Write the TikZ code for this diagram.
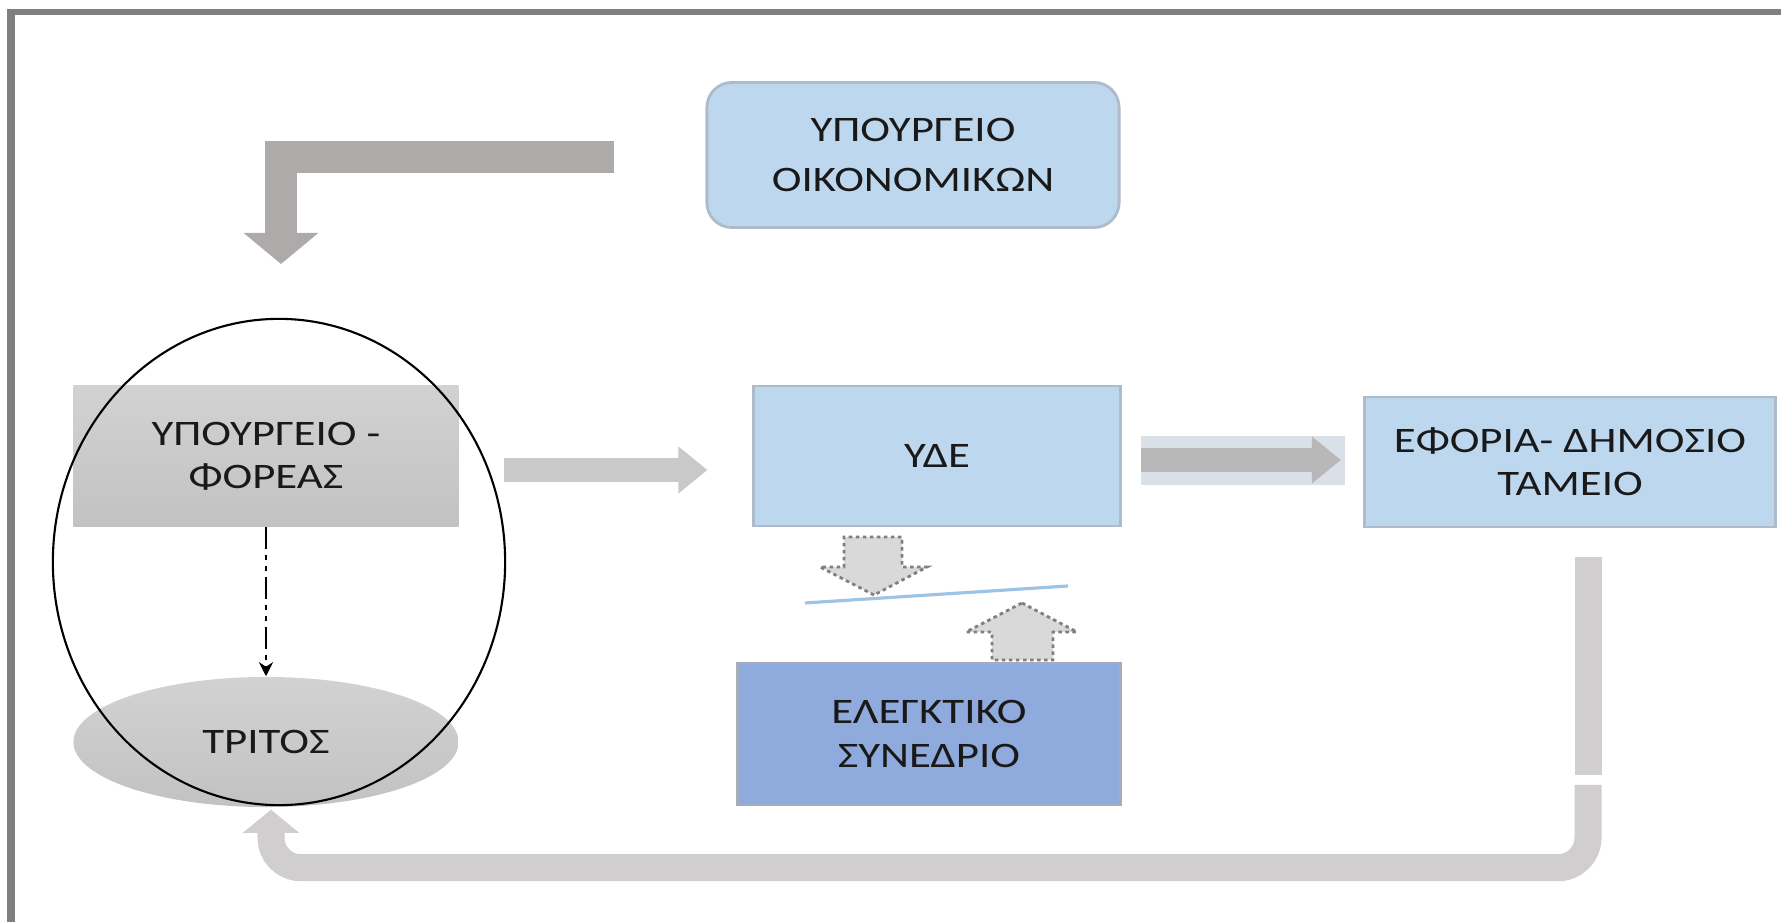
\documentclass[tikz,border=0pt]{standalone}
\usepackage{fontspec}
\setmainfont{Carlito}[FakeStretch=1.25]
\usetikzlibrary{calc,arrows.meta,shapes.geometric}
\tikzset{>=stealth}

\definecolor{boxblue}{HTML}{BDD7EE}
\definecolor{boxedge}{HTML}{AEBBCB}
\definecolor{auditblue}{HTML}{8FAADC}
\definecolor{auditedge}{HTML}{A4ADBC}
\definecolor{framegray}{HTML}{7F7F7F}
\definecolor{bentgray}{HTML}{AEAAAA}
\definecolor{flowgray}{HTML}{C9C9C9}
\definecolor{loopgray}{HTML}{D0CECE}
\definecolor{glowblue}{HTML}{DAE0E8}
\definecolor{dashfill}{HTML}{D9D9D9}
\definecolor{lineblue}{HTML}{9DC3E6}
\definecolor{greytop}{HTML}{D2D2D2}
\definecolor{greybot}{HTML}{C2C2C2}

\tikzset{
  txt/.style={font=\fontsize{10.2}{12.3}\selectfont, text=black!90, align=center},
  bluebox/.style={txt, rectangle, fill=boxblue, draw=boxedge, line width=0.8pt, inner sep=0pt},
  greybox/.style={txt, rectangle, top color=greytop, bottom color=greybot, inner sep=0pt},
  flowarrow/.style={draw=flowgray, line width=0.24cm, -{Triangle[width=0.45cm,length=0.29cm]}},
  bentarrow/.style={draw=bentgray, line width=0.32cm, line join=miter, -{Triangle[width=0.73cm,length=0.31cm]}},
  looparrow/.style={draw=loopgray, line width=0.27cm, rounded corners=0.3cm, -{Triangle[width=0.55cm,length=0.23cm]}},
  dashblock/.style={fill=dashfill, draw=framegray, line width=0.8pt, dash pattern=on 1pt off 1pt},
}

\begin{document}
\begin{tikzpicture}[x=0.01cm, y=-0.01cm]
  \useasboundingbox (0,0) rectangle (1781,922);
  % frame
  \fill[framegray] (7,9) rectangle (15,922);
  \fill[framegray] (7,9) rectangle (1781,15);

  \node[bluebox, rounded corners=0.25cm, minimum width=4.12cm, minimum height=1.45cm] (minfin) at (913,155) {ΥΠΟΥΡΓΕΙΟ\\[2pt]ΟΙΚΟΝΟΜΙΚΩΝ};
  \node[greybox, minimum width=3.85cm, minimum height=1.41cm] (foreas) at (266,456) {ΥΠΟΥΡΓΕΙΟ -\\ΦΟΡΕΑΣ};
  \node[greybox, ellipse, minimum width=3.85cm, minimum height=1.30cm] (tritos) at (266,742) {ΤΡΙΤΟΣ};
  \node[bluebox, minimum width=3.66cm, minimum height=1.40cm] (yde) at (937,456) {ΥΔΕ};
  \node[bluebox, minimum width=4.11cm, minimum height=1.30cm] (eforia) at (1570,462) {ΕΦΟΡΙΑ- ΔΗΜΟΣΙΟ\\ΤΑΜΕΙΟ};
  \node[bluebox, fill=auditblue, draw=auditedge, minimum width=3.82cm, minimum height=1.42cm] (elegktiko) at (929,734) {ΕΛΕΓΚΤΙΚΟ\\ΣΥΝΕΔΡΙΟ};
  \node[ellipse, draw=black, line width=0.6pt, minimum width=4.52cm, minimum height=4.86cm] (group) at (279,562) {};

  % bent arrow from the ministry of finance
  \coordinate (bentstart) at ($(minfin.west)+(-91,2)$);
  \coordinate (benttip) at (281,264);
  \draw[bentarrow] (bentstart) -| (benttip);

  \draw[black, line width=0.85pt, dash pattern=on 6.3pt off 1.7pt on 1.4pt off 1.7pt on 1.4pt off 1.7pt, -{Stealth[length=4pt,width=4pt]}] (foreas.south) -- (tritos.north);

  \draw[flowarrow] ($(foreas.east)+(45,14)$) -- ($(yde.west)+(-45,14)$);
  \fill[glowblue] ($(yde.east)+(19,-20)$) rectangle ($(eforia.west)+(-18,23)$);
  \draw[flowarrow, draw=greybot!95!black] ($(yde.east)+(19,4)$) -- ($(eforia.west)+(-22,-2)$);

  % audit
  \coordinate (downtip) at (874,595);
  \coordinate (uptip) at (1022,603);
  \draw[dashblock] (downtip) -- ++(-54,-28) -- ++(24,0) -- ++(0,-30) -- ++(58,0) -- ++(0,30) -- ++(25,0) -- cycle;
  \draw[dashblock] (uptip) -- ++(55,29) -- ++(-24,0) -- ++(0,28) -- ++(-61,0) -- ++(0,-28) -- ++(-26,0) -- cycle;
  \draw[lineblue, line width=0.9pt] (805,603) -- (1068,586);

  % return to the third party
  \coordinate (loopstart) at (1588,557);
  \coordinate (loopgap) at (1588,775);
  \coordinate (loopresume) at (1588,785);
  \draw[loopgray, line width=0.27cm] (loopstart) -- (loopgap);
  \draw[looparrow] (loopresume) |- ($(tritos.south)+(5,60)$) -- ($(tritos.south)+(5,2)$);
\end{tikzpicture}
\end{document}
